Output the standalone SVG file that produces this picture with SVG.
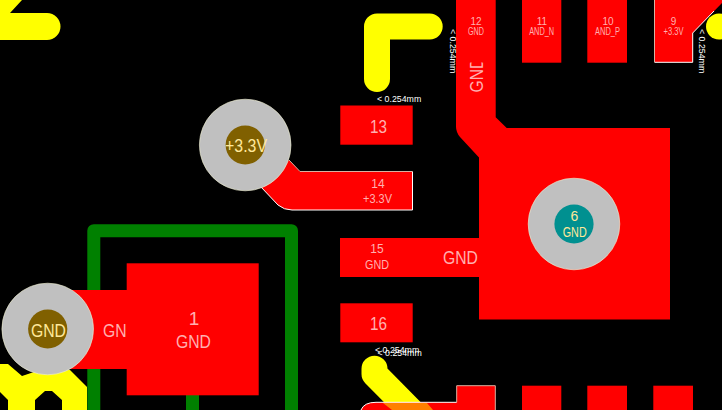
<svg xmlns="http://www.w3.org/2000/svg" width="722" height="410" viewBox="0 0 722 410">
<style>
.c{fill:none;stroke-linecap:round;stroke-linejoin:round}
.y{stroke:#ff0;stroke-width:26}
.yf{fill:#ff0}
.g{stroke:#008000;stroke-width:13}
.r{fill:#f00}
.e{fill:none;stroke:#fff;stroke-width:1}
.p{fill:none;stroke:#d8b0a0;stroke-width:1}
.t{font-family:"Liberation Sans",Arial,sans-serif;fill:#ffb0b0;text-anchor:middle}
.s{text-anchor:start}
.m{font-family:"Liberation Sans",Arial,sans-serif;fill:#fff;font-size:8.8px}
.v{fill:#c0c0c0;stroke:#f0f0d0;stroke-width:.6}
.h{fill:#806000}
.q{font-family:"Liberation Sans",Arial,sans-serif;fill:#ffe89a;text-anchor:middle}
</style>
<rect width="722" height="410" fill="#000"/>
<g id="connectors">
<path class="c g" d="M93.8 410V230.7H291.5V410"/>
<rect x="186" y="395" width="13" height="15" fill="#008000"/>
<path class="yf" d="M0 0H22L10 13H47A13.5 13.5 0 0 1 47 40H0Z"/>
<path class="yf" d="M0 364H8L22 376L40 370H70L87 387V410H62V400L52 391H45L35 400V410H8V400L0 392Z"/>
<path class="c y" d="M429.7 26.5H377V79"/>
<path class="c y" d="M374.5 368.7V374L412 412"/>
<circle class="yf" cx="719" cy="26.5" r="13"/>
<path class="r" d="M456 0H495.7V117.3L506.7 128H670V319.5H479V157.5L460 137Q456 132 456 126.7Z"/>
<path class="r" d="M289 160L300 171.5H412.5V210H292Q284 210 278 205L258 184Z"/>
<path class="r" d="M340 238H480V277H340Z"/>
<path class="r" d="M70 290H127V369H70Z"/>
<path class="e" d="M261 187L278 205Q284 210 292 210H412.5V171.5"/>
<path class="p" d="M300 171.5H412.5M289 160L300 171.5"/>
</g>
<g id="pad-1"><text class="t s" font-size="19" x="103" y="337" textLength="35" lengthAdjust="spacingAndGlyphs">GND</text><rect class="r" x="126.7" y="263.3" width="132" height="132"/><text class="t" font-size="19" x="194" y="325">1</text><text class="t" font-size="19" x="193.5" y="348" textLength="35" lengthAdjust="spacingAndGlyphs">GND</text></g>
<g id="pad-9"><path class="r" d="M654 0H722V3L692.7 33V62.3H654Z"/><path class="e" d="M714 11L692.7 33V62.3H654.5"/><path class="p" d="M654.5 0V62"/><text class="t" font-size="10" x="673.5" y="25">9</text><text class="t" font-size="10" x="673.5" y="35" textLength="20" lengthAdjust="spacingAndGlyphs">+3.3V</text></g>
<g id="pad-10"><rect class="r" x="587.3" y="0" width="39.7" height="62.7"/><text class="t" font-size="10" x="608" y="25">10</text><text class="t" font-size="10" x="607.5" y="35" textLength="25" lengthAdjust="spacingAndGlyphs">AND_P</text></g>
<g id="pad-11"><rect class="r" x="522" y="0" width="39.3" height="62.7"/><text class="t" font-size="10" x="542" y="25">11</text><text class="t" font-size="10" x="541.7" y="35" textLength="25" lengthAdjust="spacingAndGlyphs">AND_N</text></g>
<g id="pad-12"><text class="t" font-size="10" x="476" y="25">12</text><text class="t" font-size="10" x="476" y="35" textLength="16" lengthAdjust="spacingAndGlyphs">GND</text><text class="t s" font-size="19" transform="translate(483 92.5) rotate(-90)" textLength="35" lengthAdjust="spacingAndGlyphs">GND</text><rect x="460" y="50" width="30" height="12.5" class="r"/></g>
<g id="pad-13"><rect class="r" x="340.3" y="105.5" width="72.4" height="39.2"/><text class="t" font-size="19" x="378.5" y="132.5" textLength="17" lengthAdjust="spacingAndGlyphs">13</text></g>
<g id="pad-14"><text class="t" font-size="12" x="378" y="188">14</text><text class="t" font-size="12" x="377.5" y="203" textLength="29" lengthAdjust="spacingAndGlyphs">+3.3V</text></g>
<g id="pad-15"><text class="t" font-size="12" x="377" y="253">15</text><text class="t" font-size="12" x="377" y="269" textLength="24" lengthAdjust="spacingAndGlyphs">GND</text><text class="t s" font-size="19" x="443" y="264" textLength="35" lengthAdjust="spacingAndGlyphs">GND</text></g>
<g id="pad-16"><rect class="r" x="340.3" y="303.3" width="72.4" height="39"/><text class="t" font-size="19" x="378.5" y="330" textLength="17" lengthAdjust="spacingAndGlyphs">16</text></g>
<g id="pad-bottom"><path class="r" d="M456.7 385.7H495.3V410H361Q364 402.3 376 402.3H456.7Z"/><path d="M383 403H427L433 410H392Z" fill="#ff8000"/><path class="e" d="M361 410Q364 402.3 376 402.3H456.7"/><path class="p" d="M456.7 402.3V385.7H495.3V410"/><rect class="r" x="522" y="385.7" width="39.3" height="25"/><rect class="r" x="587.3" y="385.7" width="39.7" height="25"/><rect class="r" x="653.3" y="385.7" width="39.7" height="25"/></g>
<g id="via-3v3"><circle class="v" cx="245.2" cy="145" r="45.8"/><circle class="h" cx="245.2" cy="145" r="19.6"/><text class="q" font-size="19" x="246" y="152" textLength="42" lengthAdjust="spacingAndGlyphs">+3.3V</text></g>
<g id="via-gnd-left"><circle class="v" cx="47.7" cy="329" r="45.8"/><circle class="h" cx="47.7" cy="329" r="19.6"/><text class="q" font-size="19" x="48.5" y="336.5" textLength="35" lengthAdjust="spacingAndGlyphs">GND</text></g>
<g id="via-gnd-right"><circle class="v" cx="574" cy="224" r="45.8"/><circle cx="574" cy="224" r="19.6" fill="#009090"/><text class="q" font-size="14" x="574.5" y="221">6</text><text class="q" font-size="14" x="574.7" y="237" textLength="24" lengthAdjust="spacingAndGlyphs">GND</text></g>
<g id="clearance">
<text class="m" x="377" y="102">&lt; 0.254mm</text>
<text class="m" x="375" y="353">&lt; 0.254mm</text>
<text class="m" x="377.5" y="356">&lt; 0.254mm</text>
<text class="m" transform="translate(449.5 29) rotate(90)">&lt; 0.254mm</text>
<text class="m" transform="translate(699 29) rotate(90)">&lt; 0.254mm</text>
</g>
</svg>
